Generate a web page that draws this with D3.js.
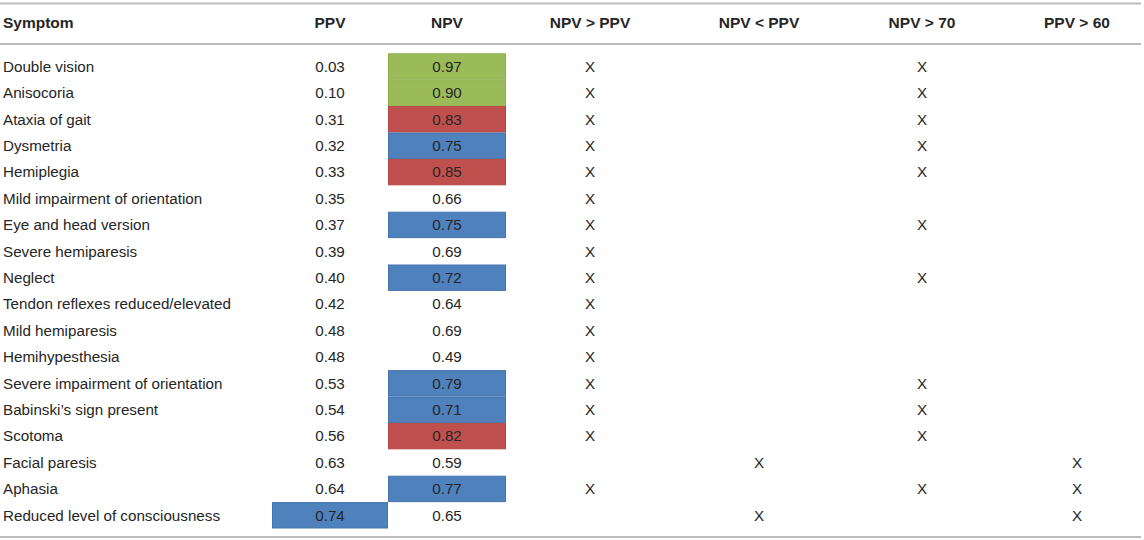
<!DOCTYPE html>
<html>
<head>
<meta charset="utf-8">
<script src="https://cdn.jsdelivr.net/npm/d3@7"></script>
<style>
  body { margin: 0; background: #fff; }
  svg { display: block; font-family: "Liberation Sans", Arial, sans-serif; }
</style>
</head>
<body>
<script>
// Table data
const symptoms = [
  'Double vision', 'Anisocoria', 'Ataxia of gait', 'Dysmetria', 'Hemiplegia',
  'Mild impairment of orientation', 'Eye and head version', 'Severe hemiparesis',
  'Neglect', 'Tendon reflexes reduced/elevated', 'Mild hemiparesis',
  'Hemihypesthesia', 'Severe impairment of orientation', 'Babinski\u2019s sign present',
  'Scotoma', 'Facial paresis', 'Aphasia', 'Reduced level of consciousness'
];
const ppv = [0.03, 0.10, 0.31, 0.32, 0.33, 0.35, 0.37, 0.39, 0.40, 0.42, 0.48, 0.48,
  0.53, 0.54, 0.56, 0.63, 0.64, 0.74];
const npv = [0.97, 0.90, 0.83, 0.75, 0.85, 0.66, 0.75, 0.69, 0.72, 0.64, 0.69, 0.49,
  0.79, 0.71, 0.82, 0.59, 0.77, 0.65];
// highlight class per cell: g = green, r = red, b = blue, '' = none
const npvMark = ['g', 'g', 'r', 'b', 'r', '', 'b', '', 'b', '', '', '', 'b', 'b', 'r', '', 'b', ''];
const ppvMark = ['', '', '', '', '', '', '', '', '', '', '', '', '', '', '', '', '', 'b'];
const npvGtPpv = [1, 1, 1, 1, 1, 1, 1, 1, 1, 1, 1, 1, 1, 1, 1, 0, 1, 0];
const npvLtPpv = [0, 0, 0, 0, 0, 0, 0, 0, 0, 0, 0, 0, 0, 0, 0, 1, 0, 1];
const npvGt70 = [1, 1, 1, 1, 1, 0, 1, 0, 1, 0, 0, 0, 1, 1, 1, 0, 1, 0];
const ppvGt60 = [0, 0, 0, 0, 0, 0, 0, 0, 0, 0, 0, 0, 0, 0, 0, 1, 1, 1];
const headers = ['Symptom', 'PPV', 'NPV', 'NPV > PPV', 'NPV < PPV', 'NPV > 70', 'PPV > 60'];

const width = 1144, height = 540;
const fill = {g: '#9bbb59', r: '#c0504d', b: '#4f81bd'};
const stroke = {g: '#8eb04c', r: '#b44542', b: '#4574b0'};
const textColor = '#262626';

const svg = d3.select('body').append('svg')
    .attr('width', width).attr('height', height)
    .attr('viewBox', [0, 0, width, height]);

const y = d3.scaleBand()
    .domain(d3.range(symptoms.length))
    .range([53.3, 528.5])
    .paddingInner(0);

// column centres (Symptom is left aligned)
const colX = d3.scaleOrdinal()
    .domain(headers)
    .range([3, 330, 447, 590, 759, 922, 1077]);
const cellLeft = {PPV: 272, NPV: 388};
const cellWidth = {PPV: 116, NPV: 118};

const fmt = d3.format('.2f');

// rules
const rule = (yy) => svg.append('line')
    .attr('x1', 0).attr('x2', 1141)
    .attr('y1', yy).attr('y2', yy)
    .attr('stroke', '#bbb').attr('stroke-width', 2);
rule(3.5);
rule(44);
rule(537);

// header
svg.append('g').selectAll('text')
  .data(headers)
  .join('text')
    .attr('x', d => colX(d))
    .attr('y', 23)
    .attr('dy', '0.35em')
    .attr('text-anchor', (d, i) => i === 0 ? 'start' : 'middle')
    .attr('font-size', 15.5)
    .attr('font-weight', 'bold')
    .attr('fill', textColor)
    .text(d => d);

// highlighted cells
function cells(col, marks) {
  svg.append('g').selectAll('rect')
    .data(marks.map((m, i) => ({m, i})).filter(d => d.m))
    .join('rect')
      .attr('x', cellLeft[col] + 0.5)
      .attr('y', d => y(d.i) + 0.5)
      .attr('width', cellWidth[col] - 1)
      .attr('height', y.bandwidth() - 1)
      .attr('fill', d => fill[d.m])
      .attr('stroke', d => stroke[d.m])
      .attr('stroke-width', 1);
}
cells('PPV', ppvMark);
cells('NPV', npvMark);

const rowsG = svg.append('g')
    .attr('font-size', 15.2)
    .attr('fill', textColor);

function column(col, values, anchor) {
  rowsG.append('g').selectAll('text')
    .data(values)
    .join('text')
      .attr('x', colX(col))
      .attr('y', (d, i) => y(i) + y.bandwidth() / 2)
      .attr('dy', '0.35em')
      .attr('text-anchor', anchor)
      .text(d => d);
}
column('Symptom', symptoms, 'start');
column('PPV', ppv.map(fmt), 'middle');
column('NPV', npv.map(fmt), 'middle');
column('NPV > PPV', npvGtPpv.map(v => v ? 'X' : ''), 'middle');
column('NPV < PPV', npvLtPpv.map(v => v ? 'X' : ''), 'middle');
column('NPV > 70', npvGt70.map(v => v ? 'X' : ''), 'middle');
column('PPV > 60', ppvGt60.map(v => v ? 'X' : ''), 'middle');
</script>
</body>
</html>
